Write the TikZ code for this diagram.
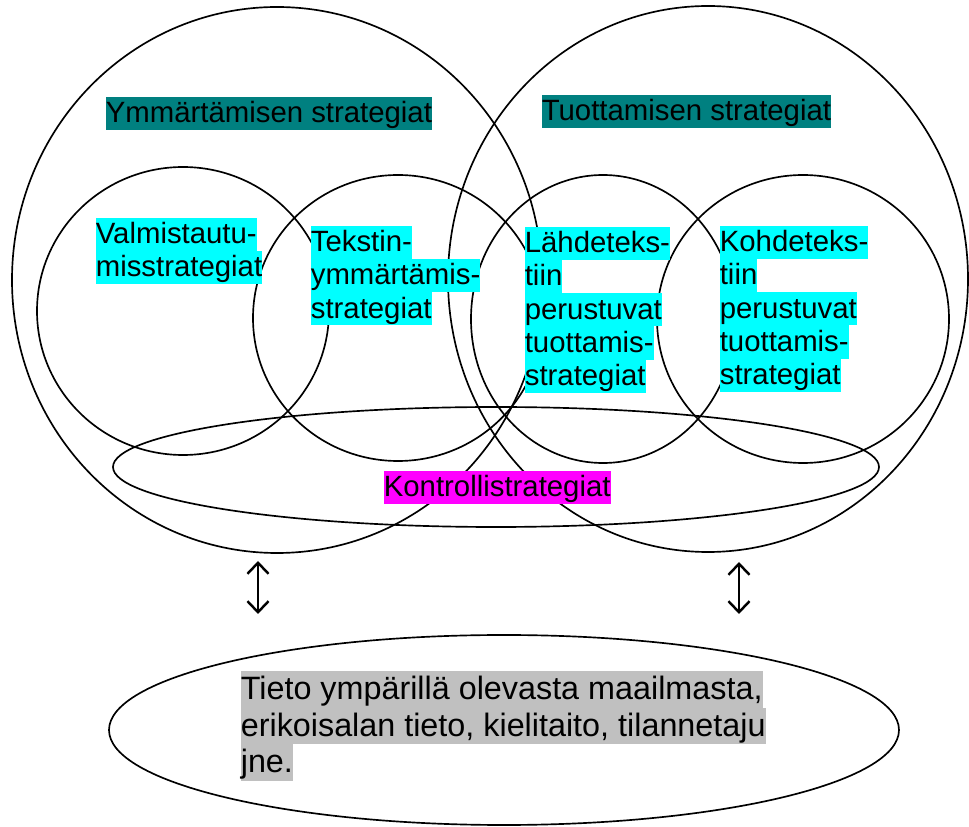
\documentclass[tikz,border=0pt]{standalone}
\usepackage{fontspec}
\setmainfont{Liberation Sans}
\usetikzlibrary{shapes.geometric}
\usetikzlibrary{arrows.meta}
\definecolor{tealbg}{RGB}{0,128,128}
\definecolor{cyanbg}{RGB}{0,255,255}
\definecolor{magentabg}{RGB}{255,0,255}
\definecolor{silverbg}{RGB}{192,192,192}
\tikzset{ring/.style 2 args={draw, ellipse, inner sep=0pt,
                             minimum width=#1*0.4mm, minimum height=#2*0.4mm}}
\tikzstyle{tag} = [anchor=north west, inner sep=0pt, align=left,
                   font={\fontsize{16.7}{18.9}\selectfont\lineskiplimit=-100pt}]
\tikzstyle{bigtag} = [tag, font={\fontsize{18.4}{20.9}\selectfont\lineskiplimit=-100pt}]
\newcommand{\hilite}[2]{{\fboxsep=0pt\colorbox{#1}{\vrule width 0pt
  height .78\baselineskip depth .22\baselineskip #2}}}

\begin{document}
\begin{tikzpicture}[x=0.2mm, y=-0.2mm, line width=0.95pt,
                    >={Straight Barb[length=2.2mm, width=4.2mm]}]

% background
\useasboundingbox (0,0) rectangle (969,827);

% add rings
\node [ring={265}{273}] (ymm)   at (277,280) {};
\node [ring={260}{273}] (tuot)  at (708,279) {};
\node [ring={146}{144}] (valm)  at (183,311) {};
\node [ring={145}{143}] (teks)  at (398,318) {};
\node [ring={132}{144}] (lahd)  at (603,319) {};
\node [ring={146}{144}] (kohd)  at (803,319) {};
\node [ring={383}{60}]  (kont)  at (496,467) {};
\node [ring={395}{95}]  (tieto) at (504,730) {};

% add labels
\node [tag] (ymmtxt)  at (105,96)  {\hilite{tealbg}{Ymmärtämisen strategiat}};
\node [tag] (tuottxt) at (541,94)  {\hilite{tealbg}{Tuottamisen strategiat}};
\node [tag] (valmtxt) at (95,217)  {\hilite{cyanbg}{Valmistautu-}\\
                                    \hilite{cyanbg}{misstrategiat}};
\node [tag] (tekstxt) at (310,225) {\hilite{cyanbg}{Tekstin-}\\
                                    \hilite{cyanbg}{ymmärtämis-}\\
                                    \hilite{cyanbg}{strategiat}};
\node [tag] (lahdtxt) at (524,226) {\hilite{cyanbg}{Lähdeteks-}\\
                                    \hilite{cyanbg}{tiin}\\
                                    \hilite{cyanbg}{perustuvat}\\
                                    \hilite{cyanbg}{tuottamis-}\\
                                    \hilite{cyanbg}{strategiat}};
\node [tag] (kohdtxt) at (719,225) {\hilite{cyanbg}{Kohdeteks-}\\
                                    \hilite{cyanbg}{tiin}\\
                                    \hilite{cyanbg}{perustuvat}\\
                                    \hilite{cyanbg}{tuottamis-}\\
                                    \hilite{cyanbg}{strategiat}};
\node [tag] (konttxt) at (383,470) {\hilite{magentabg}{Kontrollistrategiat}};
\node [bigtag] (tietotxt) at (240,670) {\hilite{silverbg}{Tieto ympärillä olevasta maailmasta,}\\
                                        \hilite{silverbg}{erikoisalan tieto, kielitaito, tilannetaju}\\
                                        \hilite{silverbg}{jne.}};

% add connections
\coordinate (ymmfoot)  at (258,561);
\coordinate (tietol)   at (258,614);
\coordinate (tuotfoot) at (739,562);
\coordinate (tietor)   at (739,614);
\draw[<->, line width=1.4pt] (ymmfoot) -- (tietol);
\draw[<->, line width=1.4pt] (tuotfoot) -- (tietor);

\end{tikzpicture}
\end{document}
